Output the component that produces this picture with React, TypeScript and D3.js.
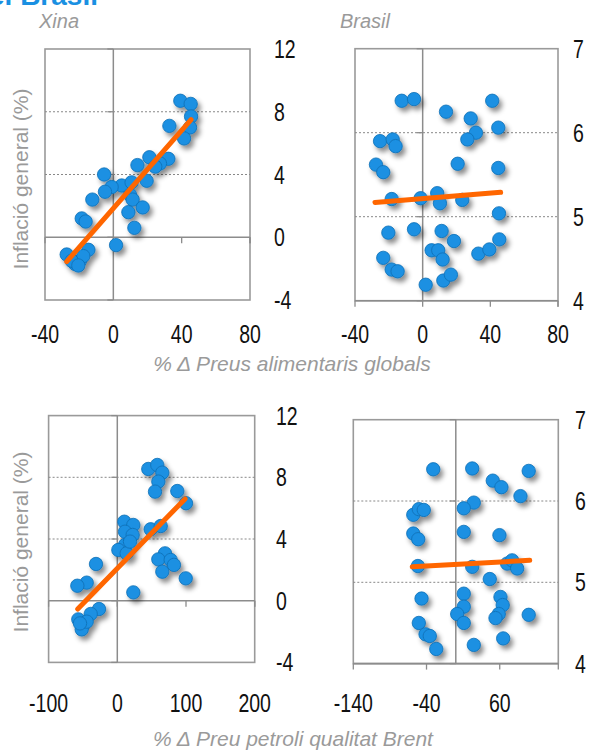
import React from "react";
import * as d3 from "d3";

// ---------- DATA ----------
const xTicksFood = [-40, 0, 40, 80];
const xTicksOilChina = [-100, 0, 100, 200];
const xTicksOilBrazil = [-140, -40, 60];
const yTicksChina = [-4, 0, 4, 8, 12];
const yTicksBrazil = [4, 5, 6, 7];

const chinaFood: [number, number][] = [
  [39.2, 8.7], [45.3, 8.5], [45.5, 7.7], [44.9, 7.0], [41.4, 6.3], [32.8, 7.1],
  [21.1, 5.1], [32.2, 5.0], [27.3, 4.7], [24.5, 4.5], [14.1, 4.6], [19.5, 3.6],
  [-5.4, 4.0], [4.9, 3.3], [-1.0, 3.2], [-4.9, 2.9], [10.7, 3.5], [9.8, 2.7],
  [11.3, 2.4], [-12.3, 2.4], [17.2, 1.9], [8.8, 1.6], [-18.5, 1.2], [-16.2, 1.0],
  [12.3, 0.6], [1.6, -0.5], [-27.3, -1.1], [-22.4, -1.7], [-19.5, -1.5],
  [-14.6, -0.8], [-17.6, -1.2], [-24.4, -1.5], [-20.5, -1.8],
];
const chinaFoodFit: [number, number][] = [[-27.3, -1.55], [45.5, 7.5]];

const brazilFood: [number, number][] = [
  [-12.4, 6.38], [-5.1, 6.4], [13.8, 6.25], [28.4, 6.17], [41.1, 6.38], [44.7, 6.06],
  [31.5, 6.0], [26.4, 5.92], [-25.2, 5.9], [-17.7, 5.92], [-16.0, 5.84], [-27.6, 5.62],
  [-23.3, 5.53], [20.7, 5.63], [44.7, 5.58], [-18.3, 5.21], [-1.2, 5.22], [8.6, 5.28],
  [10.2, 5.16], [23.4, 5.2], [45.1, 5.04], [-20.3, 4.81], [-5.1, 4.85], [11.2, 4.83],
  [18.5, 4.71], [5.3, 4.6], [9.2, 4.6], [11.8, 4.49], [32.9, 4.56], [39.4, 4.61],
  [45.3, 4.73], [-23.3, 4.51], [-18.3, 4.37], [-14.8, 4.35], [1.8, 4.19], [12.2, 4.24],
  [16.7, 4.31],
];
const brazilFoodFit: [number, number][] = [[-28.2, 5.17], [46.1, 5.29]];

const chinaOil: [number, number][] = [
  [45.1, 8.54], [58.2, 8.8], [65.5, 8.3], [59.7, 7.72], [54.9, 7.07], [87.3, 7.11],
  [100, 6.32], [10.2, 5.12], [23.3, 4.91], [11.2, 4.47], [22.4, 4.26], [48.6, 4.63],
  [63.2, 4.84], [11.2, 3.61], [1.5, 3.29], [13.7, 3.07], [18.5, 3.83], [69.4, 3.07],
  [59.7, 2.68], [77.7, 2.64], [82.5, 2.32], [65.5, 1.88], [99.6, 1.45], [-31, 2.38],
  [-44.5, 1.17], [-58.2, 0.97], [23.3, 0.54], [-26.6, -0.54], [-38.7, -0.86],
  [-56.8, -1.21], [-49.5, -1.58], [-51.8, -1.86], [-44.5, -1.36], [-54.3, -1.47],
];
const chinaOilFit: [number, number][] = [[-57.6, -0.54], [98.6, 6.6]];

const brazilOil: [number, number][] = [
  [-30.8, 6.39], [22.4, 6.4], [99.6, 6.37], [50.5, 6.25], [62.3, 6.17], [88.3, 6.06],
  [24.6, 5.98], [10.9, 5.91], [-58.1, 5.83], [-50.5, 5.9], [-43.7, 5.89], [-58.1, 5.6],
  [-51.3, 5.53], [10.9, 5.62], [59.6, 5.58], [-51.8, 5.2], [22.4, 5.19], [70.1, 5.23],
  [76.9, 5.27], [83.8, 5.17], [46.4, 5.04], [-46.8, 4.8], [10.9, 4.86], [10.9, 4.7],
  [1.9, 4.61], [10.9, 4.5], [61, 4.82], [64.1, 4.72], [58.7, 4.61], [54.2, 4.56],
  [99.6, 4.6], [-50.5, 4.5], [-41.3, 4.36], [-35.5, 4.34], [-26.7, 4.18], [24.6, 4.23],
  [64.7, 4.31],
];
const brazilOilFit: [number, number][] = [[-59.5, 5.19], [101, 5.27]];

const titleText = "el Brasil";
const countryLabels = ["Xina", "Brasil"];
const yAxisTitle = "Inflació general (%)";
const xTitleFood = "% Δ Preus alimentaris globals";
const xTitleOil = "% Δ Preu petroli qualitat Brent";

// ---------- STYLE ----------
const BLUE = "#1a90e2";
const BLUE_EDGE = "#0f6fb5";
const ORANGE = "#ff6600";
const AXIS = "#8c8c8c";
const GRAY_TEXT = "#9a9a9a";
const NUM_FONT = "'Liberation Sans', Arial, sans-serif";
const TXT_FONT = "'Liberation Sans', Arial, sans-serif";
const NARROW = 0.78;
const NUM_SIZE = 25;

type PanelProps = {
  data: [number, number][];
  fit: [number, number][];
  xDomain: [number, number];
  yDomain: [number, number];
  xRange: [number, number];
  yRange: [number, number];
  xTicks: number[];
  yTicks: number[];
  yLabelX: number;
  xLabelY: number;
};

function Panel(p: PanelProps) {
  const x = d3.scaleLinear().domain(p.xDomain).range(p.xRange);
  const y = d3.scaleLinear().domain(p.yDomain).range(p.yRange);
  const [x0, x1] = p.xRange;
  const [yb, yt] = p.yRange;
  const xAxisVal = p.yDomain[0] < 0 && p.yDomain[1] > 0 ? 0 : p.yDomain[0];
  const xAxisY = y(xAxisVal);
  const line = d3
    .line<[number, number]>()
    .x((d) => x(d[0]))
    .y((d) => y(d[1]));
  return (
    <g>
      <rect x={x0} y={yt} width={x1 - x0} height={yb - yt} fill="#fff" stroke="#9a9a9a" strokeWidth={1.6} />
      {p.yTicks
        .filter((t) => t !== p.yDomain[0] && t !== p.yDomain[1] && t !== 0)
        .map((t) => (
          <line key={"g" + t} x1={x0} x2={x1} y1={y(t)} y2={y(t)} stroke="#888" strokeWidth={1} strokeDasharray="2,2" />
        ))}
      <line x1={x(0)} x2={x(0)} y1={yt} y2={yb} stroke={AXIS} strokeWidth={1.5} />
      {p.yTicks.map((t) => (
        <line key={"yt" + t} x1={x(0) - 6} x2={x(0)} y1={y(t)} y2={y(t)} stroke={AXIS} strokeWidth={1.3} />
      ))}
      <line x1={x0} x2={x1} y1={xAxisY} y2={xAxisY} stroke={AXIS} strokeWidth={1.6} />
      {p.xTicks.map((t) => (
        <line key={"xt" + t} x1={x(t)} x2={x(t)} y1={xAxisY} y2={xAxisY + 6} stroke={AXIS} strokeWidth={1.3} />
      ))}
      <line x1={x1} x2={x1} y1={xAxisY} y2={xAxisY + 6} stroke={AXIS} strokeWidth={1.3} />
      <g filter="url(#shadow)">
        {p.data.map((d, i) => (
          <circle key={i} cx={x(d[0])} cy={y(d[1])} r={6.7} fill={BLUE} stroke={BLUE_EDGE} strokeWidth={0.8} />
        ))}
      </g>
      <path d={line(p.fit) || ""} stroke={ORANGE} strokeWidth={5} strokeLinecap="round" fill="none" />
      {p.yTicks.map((t) => (
        <g key={"yl" + t} transform={`translate(${p.yLabelX},${y(t) + 9}) scale(${NARROW},1)`}>
          <text fontFamily={NUM_FONT} fontSize={NUM_SIZE} fill="#111">
            {t}
          </text>
        </g>
      ))}
      {p.xTicks.map((t) => (
        <g key={"xl" + t} transform={`translate(${x(t)},${p.xLabelY}) scale(${NARROW},1)`}>
          <text textAnchor="middle" fontFamily={NUM_FONT} fontSize={NUM_SIZE} fill="#111">
            {t}
          </text>
        </g>
      ))}
    </g>
  );
}

export default function App() {
  return (
    <svg width={595} height={751} style={{ position: "absolute", left: 0, top: 0, background: "#fff" }}>
      <defs>
        <filter id="shadow" x="-20%" y="-20%" width="150%" height="150%">
          <feDropShadow dx={3} dy={4} stdDeviation={2.6} floodColor="#000" floodOpacity={0.45} />
        </filter>
      </defs>
      <rect width={595} height={751} fill="#fff" />
      <text x={-11} y={5} fontFamily={TXT_FONT} fontWeight="bold" fontSize={28} fill={BLUE}>
        {titleText}
      </text>
      <text x={39} y={28} fontFamily={TXT_FONT} fontStyle="italic" fontSize={20} fill={GRAY_TEXT}>
        {countryLabels[0]}
      </text>
      <text x={340} y={28} fontFamily={TXT_FONT} fontStyle="italic" fontSize={20} fill={GRAY_TEXT}>
        {countryLabels[1]}
      </text>
      <text transform="translate(28,179) rotate(-90)" textAnchor="middle" fontFamily={TXT_FONT} fontSize={21} fill={GRAY_TEXT}>
        {yAxisTitle}
      </text>
      <text transform="translate(28,542) rotate(-90)" textAnchor="middle" fontFamily={TXT_FONT} fontSize={21} fill={GRAY_TEXT}>
        {yAxisTitle}
      </text>
      <Panel
        data={chinaFood}
        fit={chinaFoodFit}
        xDomain={[-40, 80]}
        yDomain={[-4, 12]}
        xRange={[45, 250]}
        yRange={[300, 49]}
        xTicks={xTicksFood}
        yTicks={yTicksChina}
        yLabelX={274}
        xLabelY={343}
      />
      <Panel
        data={brazilFood}
        fit={brazilFoodFit}
        xDomain={[-40, 80]}
        yDomain={[4, 7]}
        xRange={[355, 558]}
        yRange={[300.7, 48.7]}
        xTicks={xTicksFood}
        yTicks={yTicksBrazil}
        yLabelX={573}
        xLabelY={343}
      />
      <Panel
        data={chinaOil}
        fit={chinaOilFit}
        xDomain={[-100, 200]}
        yDomain={[-4, 12]}
        xRange={[48.6, 254.7]}
        yRange={[662.4, 415.6]}
        xTicks={xTicksOilChina}
        yTicks={yTicksChina}
        yLabelX={276}
        xLabelY={712}
      />
      <Panel
        data={brazilOil}
        fit={brazilOilFit}
        xDomain={[-140, 140]}
        yDomain={[4, 7]}
        xRange={[353.3, 558.3]}
        yRange={[663.6, 419.7]}
        xTicks={xTicksOilBrazil}
        yTicks={yTicksBrazil}
        yLabelX={575}
        xLabelY={712}
      />
      <text x={292} y={371} textAnchor="middle" fontFamily={TXT_FONT} fontStyle="italic" fontSize={21} fill={GRAY_TEXT}>
        {xTitleFood}
      </text>
      <text x={293} y={746} textAnchor="middle" fontFamily={TXT_FONT} fontStyle="italic" fontSize={21} fill={GRAY_TEXT}>
        {xTitleOil}
      </text>
    </svg>
  );
}
